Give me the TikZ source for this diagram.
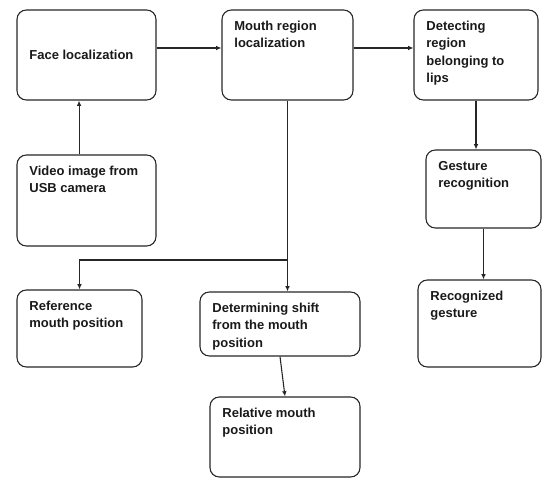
\documentclass[tikz,border=0pt]{standalone}
\usepackage{fontspec}
\setmainfont{Liberation Sans}
\usetikzlibrary{arrows.meta}

\begin{document}
\begin{tikzpicture}[x=0.75pt,y=0.75pt,
  stagebox/.style={draw=black!85, line width=0.8pt, rounded corners=7pt, inner sep=0pt},
  stagetext/.style={font=\fontsize{9.75}{13}\selectfont\bfseries, text=black!90, align=left, inner xsep=9.5pt, inner ysep=8.5pt},
  flow/.style={draw=black!85, line width=0.8pt, -{Latex[length=4pt,width=3.5pt]}}]
\useasboundingbox (0,0) rectangle (542,-478);
\node (face) [stagebox, minimum width=104.25pt, minimum height=67.5pt, label={[stagetext, anchor=west]west:Face localization}] at (86.5,-55) {};
\node (video) [stagebox, minimum width=104.25pt, minimum height=68.25pt, label={[stagetext, anchor=north west]north west:Video image from\\USB camera}] at (86.5,-200.5) {};
\node (mouth) [stagebox, minimum width=98.25pt, minimum height=67.5pt, label={[stagetext, anchor=north west]north west:Mouth region\\localization}] at (287.5,-55) {};
\node (detect) [stagebox, minimum width=93pt, minimum height=67.5pt, label={[stagetext, anchor=north west]north west:Detecting\\region\\belonging to\\lips}] at (476,-55) {};
\node (gesture) [stagebox, minimum width=86.25pt, minimum height=58.5pt, label={[stagetext, anchor=north west]north west:Gesture\\recognition}] at (483.5,-189) {};
\node (recog) [stagebox, minimum width=92.25pt, minimum height=65.25pt, label={[stagetext, anchor=north west]north west:Recognized\\gesture}] at (479.5,-323.5) {};
\node (ref) [stagebox, minimum width=93.75pt, minimum height=57.75pt, label={[stagetext, anchor=north west]north west:Reference\\mouth position}] at (79.5,-328.5) {};
\node (shift) [stagebox, minimum width=120pt, minimum height=48pt, label={[stagetext, anchor=north west]north west:Determining shift\\from the mouth\\position}] at (280,-324) {};
\node (rel) [stagebox, minimum width=112.5pt, minimum height=60pt, label={[stagetext, anchor=north west]north west:Relative mouth\\position}] at (285,-437) {};
\coordinate (split) at (287.5,-260);
\draw [flow] ([xshift=-5.6pt]video.north) -- ([xshift=-5.6pt]face.south);
\draw [flow] ([yshift=5.25pt]face.east) -- ([yshift=5.25pt]face.east -| mouth.west);
\draw [flow] ([yshift=5.25pt]mouth.east) -- ([yshift=5.25pt]mouth.east -| detect.west);
\draw [flow] (detect.south) -- (detect.south |- gesture.north);
\draw [flow] (gesture.south) -- (gesture.south |- recog.north);
\draw [draw=black!85, line width=0.8pt] (mouth.south) -- (split);
\draw [flow] (split) -- (split |- shift.north);
\draw [flow] (split) -| (ref.north);
\draw [flow] (shift.south) -- (rel.north);
\end{tikzpicture}
\end{document}
